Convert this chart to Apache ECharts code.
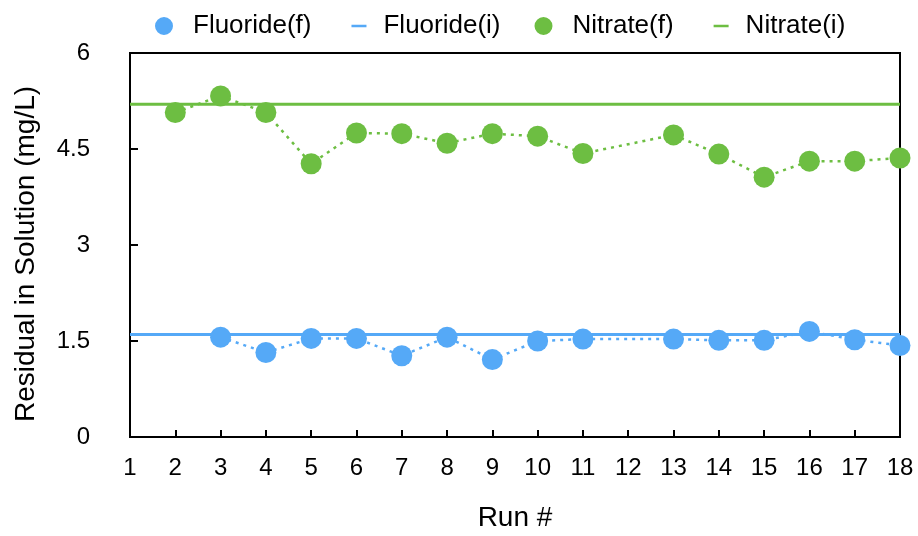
<!DOCTYPE html>
<html>
<head>
<meta charset="utf-8">
<script src="https://cdn.jsdelivr.net/npm/echarts@6/dist/echarts.min.js"></script>
<style>
  html, body { margin: 0; padding: 0; background: #fff; }
  #chart { width: 918px; height: 536px; }
</style>
</head>
<body>
<div id="chart"></div>
<script type="text/javascript">
    // runs along the x axis
    var runs = [1, 2, 3, 4, 5, 6, 7, 8, 9, 10, 11, 12, 13, 14, 15, 16, 17, 18];
    // measured residuals, null = no point for that run
    var fluorideF = [null, null, 1.56, 1.32, 1.54, 1.54, 1.27, 1.56, 1.21, 1.50, 1.53, null, 1.53, 1.51, 1.51, 1.65, 1.52, 1.43];
    var nitrateF = [null, 5.07, 5.33, 5.07, 4.27, 4.75, 4.74, 4.59, 4.74, 4.70, 4.43, null, 4.72, 4.42, 4.06, 4.31, 4.31, 4.36];
    // initial levels (horizontal lines)
    var fluorideI = 1.6;
    var nitrateI = 5.2;
    var yTicks = [0, 1.5, 3, 4.5, 6];

    var blue = '#55A9F7';
    var green = '#6DBE42';
    var font = 'Liberation Sans, Helvetica, Arial, sans-serif';

    // legend icons drawn inside a 33x18 box (the empty sub paths pin the box size)
    var dotIcon = 'path://M0,0ZM33,18ZM0,9A9,9 0 1,1 18,9A9,9 0 1,1 0,9Z';
    var lineIcon = 'path://M0,0ZM33,18ZM6,7.8H21V10.2H6Z';

    function pairs(vals) {
        var out = [];
        for (var i = 0; i < runs.length; i++) {
            out.push([runs[i], vals[i]]);
        }
        return out;
    }
    function flat(v) {
        return [[runs[0], v], [runs[runs.length - 1], v]];
    }

    var chart = echarts.init(document.getElementById('chart'));
    var option = {
        animation: false,
        textStyle: { fontFamily: font },
        legend: {
            top: 8,
            left: 150,
            itemGap: 34,
            itemWidth: 33,
            itemHeight: 18,
            textStyle: { fontSize: 26, color: '#000', fontFamily: font },
            data: [
                { name: 'Fluoride(f)', icon: dotIcon },
                { name: 'Fluoride(i)', icon: lineIcon },
                { name: 'Nitrate(f)', icon: dotIcon },
                { name: 'Nitrate(i)', icon: lineIcon }
            ]
        },
        grid: {
            left: 130, right: 18, top: 53, bottom: 99,
            outerBoundsMode: 'none',
            show: true, borderColor: '#000', borderWidth: 2
        },
        xAxis: {
            type: 'value',
            min: runs[0], max: runs[runs.length - 1], interval: 1,
            name: 'Run #',
            nameLocation: 'middle',
            nameGap: 67,
            nameTextStyle: { fontSize: 28, color: '#000', fontFamily: font },
            axisLine: { lineStyle: { color: '#000', width: 2 } },
            axisTick: { inside: true, length: 7, lineStyle: { color: '#000', width: 2 } },
            axisLabel: { fontSize: 24, color: '#000', margin: 19, fontFamily: font },
            splitLine: { show: false }
        },
        yAxis: {
            type: 'value',
            min: yTicks[0], max: yTicks[yTicks.length - 1], interval: 1.5,
            name: 'Residual in Solution (mg/L)',
            nameLocation: 'middle',
            nameGap: 90,
            nameTextStyle: { fontSize: 28, color: '#000', fontFamily: font, padding: [0, 18, 0, 0] },
            axisLine: { show: true, lineStyle: { color: '#000', width: 2 } },
            axisTick: { show: true, inside: true, length: 8, lineStyle: { color: '#000', width: 2 } },
            axisLabel: { fontSize: 24, color: '#000', margin: 40, fontFamily: font },
            splitLine: { show: false }
        },
        series: [
            {
                name: 'Fluoride(f)', type: 'line', z: 5,
                data: pairs(fluorideF), connectNulls: true,
                symbol: 'circle', symbolSize: 21,
                itemStyle: { color: blue },
                lineStyle: { color: blue, width: 2.5, type: [3, 5] }
            },
            {
                name: 'Fluoride(i)', type: 'line', z: 3,
                data: flat(fluorideI), symbol: 'none',
                itemStyle: { color: blue },
                lineStyle: { color: blue, width: 3 }
            },
            {
                name: 'Nitrate(f)', type: 'line', z: 5,
                data: pairs(nitrateF), connectNulls: true,
                symbol: 'circle', symbolSize: 21,
                itemStyle: { color: green },
                lineStyle: { color: green, width: 2.5, type: [3, 5] }
            },
            {
                name: 'Nitrate(i)', type: 'line', z: 3,
                data: flat(nitrateI), symbol: 'none',
                itemStyle: { color: green },
                lineStyle: { color: green, width: 3 }
            }
        ]
    };
    chart.setOption(option);
</script>
</body>
</html>
